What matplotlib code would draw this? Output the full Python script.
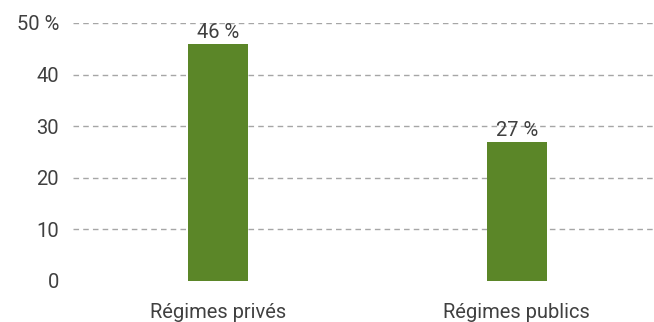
import matplotlib.pyplot as plt

categories = ['Régimes privés', 'Régimes publics']
values = [46, 27]
y_ticks = [0, 10, 20, 30, 40, 50]
y_tick_labels = ['0', '10', '20', '30', '40', '50 %']

plt.rcParams['font.family'] = ['Roboto', 'DejaVu Sans']

text_color = '#404040'
bar_color = '#5b8628'


def main():
    fig = plt.figure(figsize=(6.54, 3.22), dpi=100)
    ax = fig.add_axes([73 / 654, 1 - 281 / 322, 581 / 654, 258 / 322])

    xs = list(range(len(categories)))
    # dashed grid, no line at zero
    for t in y_ticks[1:]:
        ax.axhline(t, color='#a6a6a6', linestyle=(0, (4, 3)), linewidth=1, zorder=1)
    ax.bar(xs, values, width=0.2, color=bar_color, zorder=2)

    for x, v in zip(xs, values):
        ax.text(x, v + 0.4, f'{v} %', ha='center', va='bottom', fontsize=14.5,
                color=text_color, zorder=3)

    ax.set_xlim(-0.487, 1.46)
    ax.set_ylim(0, 50)
    ax.set_yticks(y_ticks)
    ax.set_yticklabels(y_tick_labels)
    ax.set_xticks(xs)
    ax.set_xticklabels(categories)
    ax.tick_params(axis='both', length=0, labelsize=14.5, colors=text_color)
    ax.tick_params(axis='y', pad=10)
    ax.tick_params(axis='x', pad=16)
    for s in ax.spines.values():
        s.set_visible(False)

    fig.savefig('out.png', dpi=100)


if __name__ == '__main__':
    main()
